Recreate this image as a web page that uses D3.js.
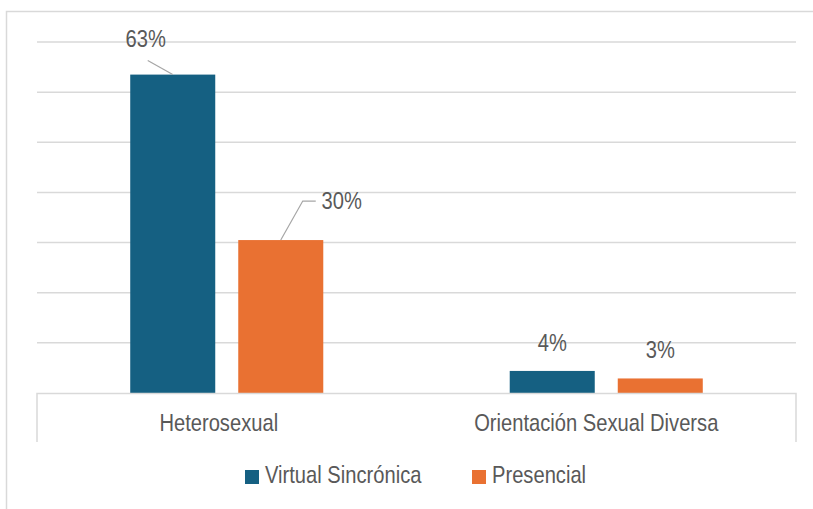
<!DOCTYPE html>
<html>
<head>
<meta charset="utf-8">
<script src="https://cdn.jsdelivr.net/npm/d3@7"></script>
<style>
  body { margin: 0; background: #fff; }
  text { font-family: "Liberation Sans", Arial, sans-serif; fill: #595959; }
</style>
</head>
<body>
<div id="chart-area"></div>
<script>
// data
let categories = ["Heterosexual", "Orientación Sexual Diversa"];
let series = ["Virtual Sincrónica", "Presencial"];
let virtualValues = [63.5, 4.4];
let presencialValues = [30.5, 2.9];
let valueLabels = [["63%", "4%"], ["30%", "3%"]];
let yTicks = [0, 10, 20, 30, 40, 50, 60, 70];

let W = 813, H = 509;
let colors = ["#156082", "#e97132"];
// the original uses a narrow face; squeeze a regular one horizontally
let narrow = "scale(0.84,1)";

let svg = d3.select("#chart-area").append("svg")
    .attr("width", W)
    .attr("height", H);

// chart frame (only left + top edges visible)
svg.append("path")
    .attr("d", "M6.5,509V11.5H813")
    .attr("fill", "none")
    .attr("stroke", "#d9d9d9")
    .attr("stroke-width", 1.5);

let plot = {left: 37, right: 796, top: 42, bottom: 393};

let x0 = d3.scaleBand()
    .domain(categories)
    .range([plot.left, plot.right]);

let x1 = d3.scaleBand()
    .domain(series)
    .range([0, x0.bandwidth()])
    .paddingInner(0.213)
    .paddingOuter(0.863);

let y = d3.scaleLinear()
    .domain([0, 70])
    .range([plot.bottom, plot.top]);

// gridlines
svg.append("g")
    .selectAll("line")
    .data(yTicks.slice(1))
    .enter().append("line")
    .attr("x1", plot.left)
    .attr("x2", plot.right)
    .attr("y1", d => y(d))
    .attr("y2", d => y(d))
    .attr("stroke", "#d9d9d9")
    .attr("stroke-width", 1.5);

// bars
let rows = categories.map((c, i) => ({
    cat: c,
    vals: [
        {s: series[0], v: virtualValues[i], lbl: valueLabels[0][i], si: 0},
        {s: series[1], v: presencialValues[i], lbl: valueLabels[1][i], si: 1}
    ]
}));

let groups = svg.selectAll("g.cat")
    .data(rows)
    .enter().append("g")
    .attr("class", "cat")
    .attr("transform", d => "translate(" + x0(d.cat) + ",0)");

groups.selectAll("rect")
    .data(d => d.vals)
    .enter().append("rect")
    .attr("x", d => x1(d.s))
    .attr("y", d => y(d.v))
    .attr("width", x1.bandwidth())
    .attr("height", d => y(0) - y(d.v))
    .attr("fill", d => colors[d.si]);

// axis line + category boundary ticks
svg.append("path")
    .attr("d", "M" + plot.left + ",442V" + (plot.bottom + 0.5) + "H" + plot.right + "V442")
    .attr("fill", "none")
    .attr("stroke", "#d9d9d9")
    .attr("stroke-width", 1.5);

let xAxis = d3.axisBottom(x0).tickSize(0).tickPadding(20);
let xg = svg.append("g")
    .attr("transform", "translate(0," + plot.bottom + ")")
    .call(xAxis);
xg.select(".domain").remove();
xg.selectAll("text")
    .style("font-size", "24px")
    .attr("fill", "#595959")
    .attr("dy", null)
    .attr("y", 0)
    .attr("transform", (d, i) => "translate(" + (i == 1 ? -10 : -8) + ",38) " + narrow);

// data labels; the two tall ones were dragged off the bar with leader lines
let labelShift = {"63%": [-27, -28], "30%": [61, -31]};

groups.selectAll("text.val")
    .data(d => d.vals)
    .enter().append("text")
    .attr("class", "val")
    .attr("text-anchor", "middle")
    .style("font-size", "24px")
    .attr("transform", function(d) {
        let sh = labelShift[d.lbl] || [0, -20];
        let tx = x1(d.s) + x1.bandwidth() / 2 + sh[0];
        let ty = y(d.v) + sh[1];
        return "translate(" + tx + "," + ty + ") " + narrow;
    })
    .text(d => d.lbl);

// leader lines
groups.selectAll("path.leader")
    .data(d => d.vals.filter(v => labelShift[v.lbl]))
    .enter().append("path")
    .attr("class", "leader")
    .attr("fill", "none")
    .attr("stroke", "#a6a6a6")
    .attr("stroke-width", 1.2)
    .attr("d", function(d) {
        let cx = x1(d.s) + x1.bandwidth() / 2;
        let top = y(d.v);
        if (d.si == 0) {
            return "M" + cx + "," + top + "L" + (cx - 25) + "," + (top - 14);
        }
        return "M" + cx + "," + top + "L" + (cx + 22) + "," + (top - 39) + "H" + (cx + 35);
    });

// legend
let legend = svg.selectAll("g.legend")
    .data(series)
    .enter().append("g")
    .attr("class", "legend")
    .attr("transform", (d, i) => "translate(" + (i == 0 ? 245 : 472) + ",470)");

legend.append("rect")
    .attr("width", 14)
    .attr("height", 14)
    .attr("fill", (d, i) => colors[i]);

legend.append("text")
    .attr("transform", "translate(20,13) " + narrow)
    .style("font-size", "24px")
    .text(d => d);
</script>
</body>
</html>
